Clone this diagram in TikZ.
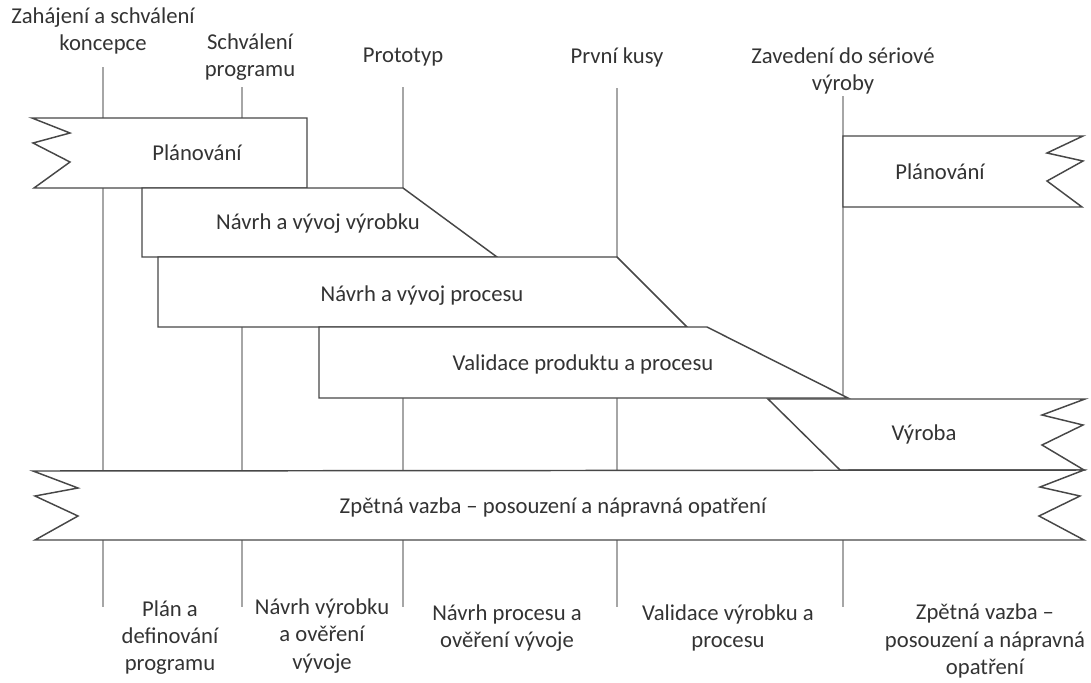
\documentclass[tikz,border=0pt]{standalone}
\usepackage{fontspec}
\setmainfont{Carlito}
\begin{document}
\begin{tikzpicture}[x=0.75pt,y=-0.75pt,
  band/.style={draw=black!72, line width=1.1pt, fill=white, line join=miter},
  milestone/.style={draw=black!35, line width=0.9pt},
  lbl/.style={font=\fontsize{17}{20.3}\selectfont, text=black!80, align=center, inner sep=0pt}]
\useasboundingbox (0,0) rectangle (1091,682);
% milestone lines
\foreach \n/\x/\t in {a/103/67, b/242/87, c/403/87, d/617/88, e/843/96} {
  \coordinate (\n top) at (\x,\t);
  \coordinate (\n bot) at (\x,607);
  \draw[milestone] (\n top) -- (\n bot);
}
% top labels
\node[lbl] (m1) at (103,31) {Zahájení a schválení\\koncepce};
\node[lbl] (m2) at (250,57) {Schválení\\programu};
\node[lbl] (m3) at (403,57) {Prototyp};
\node[lbl] (m4) at (617,57) {První kusy};
\node[lbl] (m5) at (843,71) {Zavedení do sériové\\výroby};
% bands
\draw[band] (32,118) -- (307,118) -- (307,188) -- (34,188) -- (70,162) -- (33,143) -- (70,133) -- cycle;
\node[lbl] (p1) at (197,153) {Plánování};
\draw[band] (142,188) -- (403,188) -- (497,257) -- (142,257) -- cycle;
\node[lbl] (p2) at (318,224) {Návrh a vývoj výrobku};
\draw[band] (158,257) -- (617,257) -- (687,327) -- (158,327) -- cycle;
\node[lbl] (p3) at (422,296) {Návrh a vývoj procesu};
\draw[band] (319,327) -- (707,327) -- (848,398) -- (319,398) -- cycle;
\node[lbl] (p4) at (583,364) {Validace produktu a procesu};
\draw[band] (768,399) -- (1085,399) -- (1042,415) -- (1083,425) -- (1042,445) -- (1084,470) -- (840,470) -- cycle;
\node[lbl] (p5) at (924,434) {Výroba};
\draw[band] (843,136) -- (1083,136) -- (1047,153) -- (1083,161) -- (1047,181) -- (1082,207) -- (843,207) -- cycle;
\node[lbl] (p6) at (940,172) {Plánování};
\draw[band] (33,471) -- (1084,470) -- (1040,487) -- (1080,496) -- (1039,516) -- (1084,540) -- (35,540) -- (78,516) -- (35,496) -- (78,488) -- cycle;
\node[lbl] (p7) at (553,507) {Zpětná vazba – posouzení a nápravná opatření};
% bottom labels
\node[lbl] (f1) at (170,638) {Plán a\\definování\\programu};
\node[lbl] (f2) at (322,636) {Návrh výrobku\\a ověření\\vývoje};
\node[lbl] (f3) at (507,628) {Návrh procesu a\\ověření vývoje};
\node[lbl] (f4) at (728,628) {Validace výrobku a\\procesu};
\node[lbl] (f5) at (985,641) {Zpětná vazba –\\posouzení a nápravná\\opatření};
\end{tikzpicture}
\end{document}
